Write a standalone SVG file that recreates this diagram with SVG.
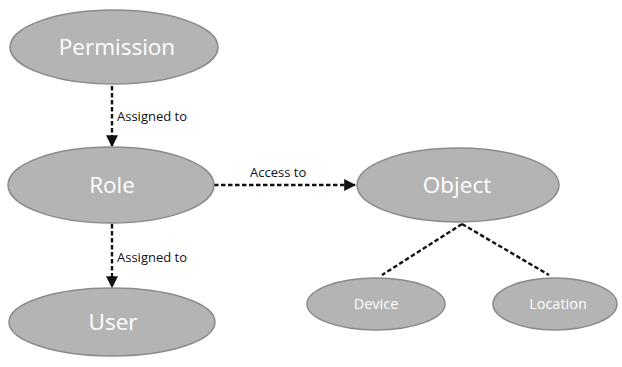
<svg xmlns="http://www.w3.org/2000/svg" width="622" height="367" viewBox="0 0 622 367">
<style>
.n{fill:#b4b4b4;stroke:#8a8a8a;stroke-width:1.5}
.t{fill:#ffffff;font-family:"Open Sans","DejaVu Sans",sans-serif;text-anchor:middle}
.big{font-size:22.5px}
.sm{font-size:14.5px}
.c{stroke:#111;stroke-width:2.4;stroke-dasharray:4.5 2.5;fill:none}
.l{fill:#111;font-family:"Open Sans","DejaVu Sans",sans-serif;font-size:13px}
</style>
<defs>
<marker id="a" viewBox="0 0 10 10" refX="9" refY="5" markerWidth="5" markerHeight="5" orient="auto" markerUnits="strokeWidth">
<path d="M0,0 L10,5 L0,10 z" fill="#111"/>
</marker>
</defs>
<rect width="622" height="367" fill="#fff"/>
<g id="connectors">
<line class="c" x1="112" y1="86" x2="112" y2="146" marker-end="url(#a)"/>
<text class="l" x="117" y="121">Assigned to</text>
<line class="c" x1="112" y1="224" x2="112" y2="287" marker-end="url(#a)"/>
<text class="l" x="117" y="262">Assigned to</text>
<line class="c" x1="214" y1="185" x2="355" y2="185" marker-end="url(#a)"/>
<text class="l" x="250" y="177">Access to</text>
<line class="c" x1="462" y1="224" x2="382" y2="275"/>
<line class="c" x1="462" y1="224" x2="549" y2="275"/>
</g>
<g id="permission"><ellipse class="n" cx="114" cy="47" rx="104" ry="37"/><text class="t big" x="117" y="55">Permission</text></g>
<g id="role"><ellipse class="n" cx="111" cy="185" rx="103" ry="38"/><text class="t big" x="112" y="193">Role</text></g>
<g id="user"><ellipse class="n" cx="112" cy="322" rx="103" ry="34"/><text class="t big" x="113" y="330">User</text></g>
<g id="object"><ellipse class="n" cx="458" cy="185" rx="101" ry="37"/><text class="t big" x="457" y="193">Object</text></g>
<g id="device"><ellipse class="n" cx="376" cy="304" rx="69" ry="26"/><text class="t sm" x="376" y="309">Device</text></g>
<g id="location"><ellipse class="n" cx="555" cy="304" rx="62" ry="26"/><text class="t sm" x="558" y="309">Location</text></g>
</svg>
